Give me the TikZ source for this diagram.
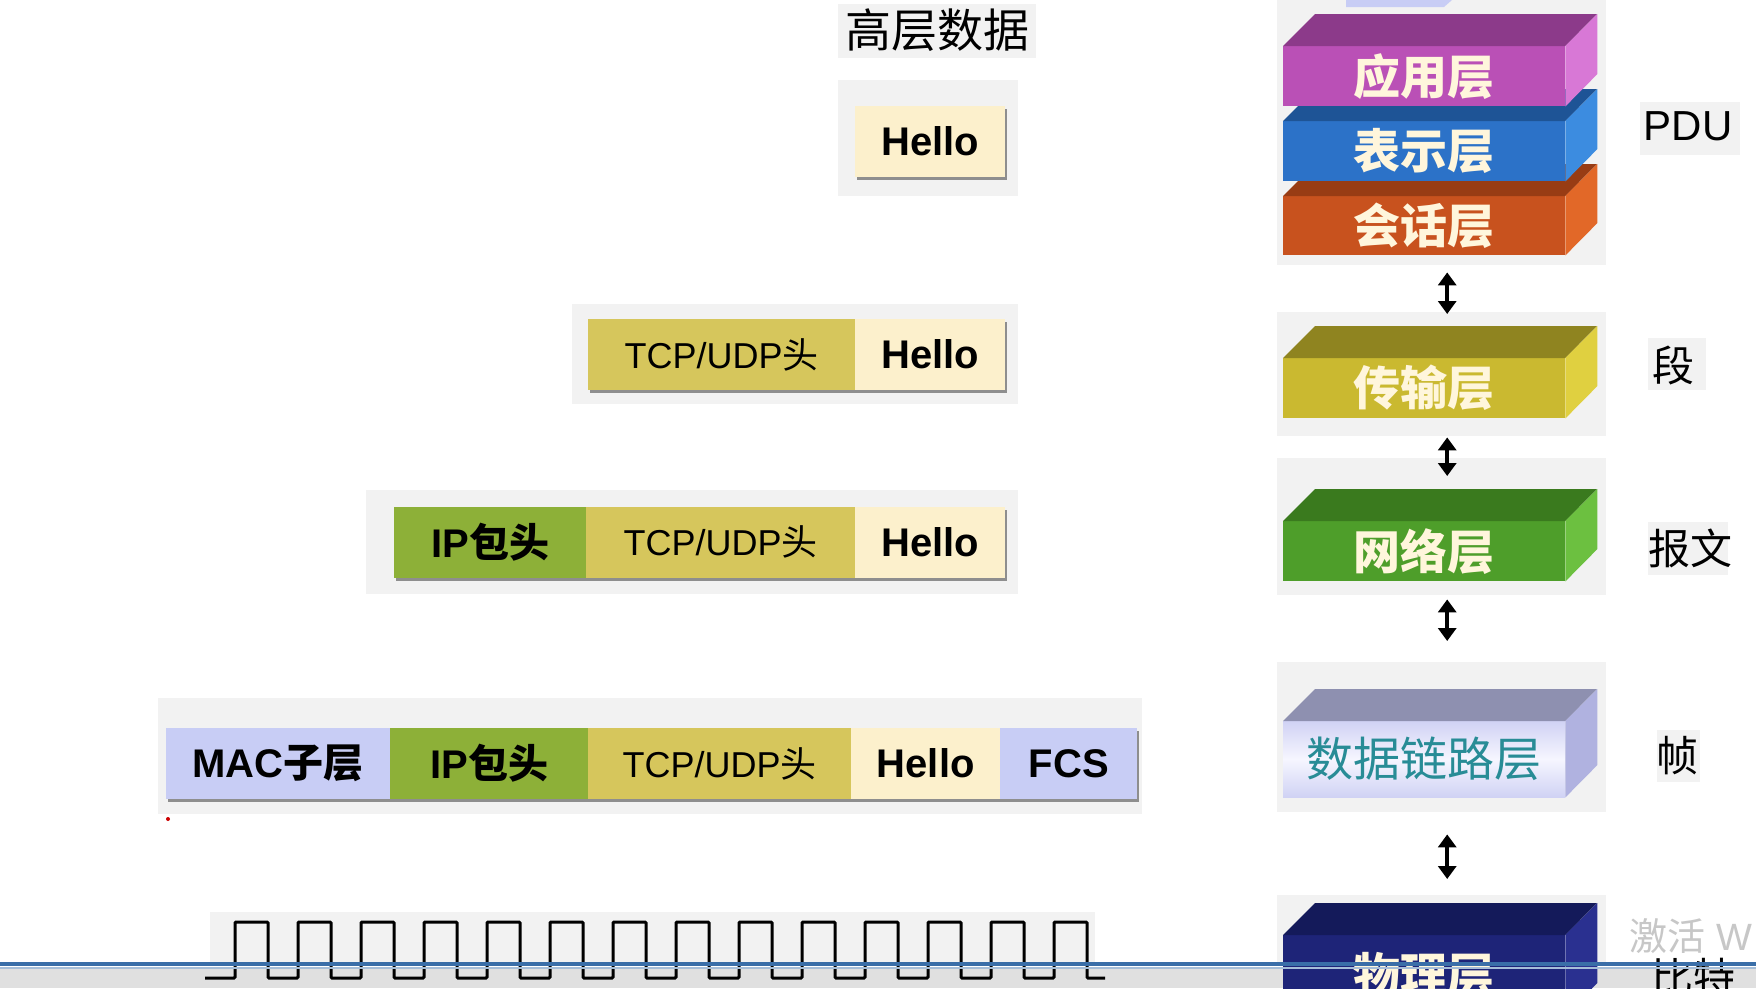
\documentclass[tikz,border=0pt]{standalone}
\usepackage{fontspec}
\setmainfont{Liberation Sans}
\newfontfamily\cjk{Noto Sans CJK SC}
\usepackage{tikz}
\usetikzlibrary{arrows.meta}
\usetikzlibrary{shadows}

\definecolor{hellofill}{RGB}{252,240,204}
\definecolor{tcpfill}{RGB}{214,198,92}
\definecolor{ipfill}{RGB}{141,176,56}
\definecolor{macfill}{RGB}{200,205,245}
\definecolor{layertext}{RGB}{255,246,220}
\definecolor{appfront}{RGB}{186,80,182}
\definecolor{apptop}{RGB}{140,58,138}
\definecolor{appside}{RGB}{216,120,214}
\definecolor{presfront}{RGB}{44,114,200}
\definecolor{prestop}{RGB}{30,84,150}
\definecolor{presside}{RGB}{60,140,224}
\definecolor{sessfront}{RGB}{200,82,30}
\definecolor{sesstop}{RGB}{152,60,20}
\definecolor{sessside}{RGB}{226,104,40}
\definecolor{transfront}{RGB}{202,185,48}
\definecolor{transtop}{RGB}{143,132,32}
\definecolor{transside}{RGB}{224,208,64}
\definecolor{netfront}{RGB}{78,158,42}
\definecolor{nettop}{RGB}{58,122,30}
\definecolor{netside}{RGB}{108,192,64}
\definecolor{dlfront}{RGB}{208,210,244}
\definecolor{dlmid}{RGB}{246,246,255}
\definecolor{dltop}{RGB}{142,144,176}
\definecolor{dlside}{RGB}{176,178,224}
\definecolor{dltext}{RGB}{40,140,150}
\definecolor{physfront}{RGB}{30,36,120}
\definecolor{phystop}{RGB}{20,26,90}
\definecolor{physside}{RGB}{42,48,144}
\definecolor{barblue}{RGB}{58,110,168}

\begin{document}
\begin{tikzpicture}[x=1pt, y=-1pt]
		\tikzstyle{halo}=[fill=black!5]
		\tikzstyle{cell}=[anchor=west, minimum height=71, inner sep=0, drop shadow={shadow xshift=2pt, shadow yshift=-3pt, fill=black!70, opacity=0.6}]
		\tikzstyle{hello}=[cell, fill=hellofill, minimum width=150, font=\bfseries\fontsize{40}{40}\selectfont]
		\tikzstyle{tcp}=[cell, fill=tcpfill, font=\fontsize{36}{36}\selectfont]
		\tikzstyle{ip}=[cell, fill=ipfill, font=\bfseries\fontsize{40}{40}\selectfont]
		\tikzstyle{mac}=[cell, fill=macfill, font=\bfseries\fontsize{40}{40}\selectfont]
		\tikzstyle{front}=[anchor=north west, minimum width=282, inner sep=0, text=layertext, font=\cjk\bfseries\fontsize{47}{47}\selectfont]
		\tikzstyle{pdu}=[font=\cjk\fontsize{42}{42}\selectfont]
		\tikzstyle{updown}=[line width=4pt, {Triangle[width=18pt,length=13pt]}-{Triangle[width=18pt,length=13pt]}]
		\tikzstyle{pulse}=[line width=3pt, rounded corners=1pt]

		\clip (0,0) rectangle (1756,988);
		\fill[white] (0,0) rectangle (1756,988);
		\fill[black!12] (0,969) rectangle (1756,988);

    % Shadows behind the slide parts
		\fill[halo] (838,4) rectangle (1036,58);
		\fill[halo] (838,80) rectangle (1018,196);
		\fill[halo] (572,304) rectangle (1018,404);
		\fill[halo] (366,490) rectangle (1018,594);
		\fill[halo] (158,698) rectangle (1142,814);
		\fill[halo] (210,912) rectangle (1095,962);
		\fill[halo] (1277,0) rectangle (1606,265);
		\fill[halo] (1277,312) rectangle (1606,436);
		\fill[halo] (1277,458) rectangle (1606,595);
		\fill[halo] (1277,662) rectangle (1606,812);
		\fill[halo] (1277,895) rectangle (1606,962);
		\fill[halo] (1640,102) rectangle (1740,155);
		\fill[halo] (1648,338) rectangle (1706,390);
		\fill[halo] (1648,522) rectangle (1728,575);
		\fill[halo] (1657,730) rectangle (1700,782);

    % Data units
		\node[pdu, font=\cjk\fontsize{46}{46}\selectfont](hdata) at (937,30){高层数据};

		\node[hello](hello1) at (855,141.5){Hello};

		\node[tcp, minimum width=267](tcp2) at (588,354.5){TCP/UDP{\cjk 头}};
		\node[hello](hello2) at (855,354.5){Hello};

		\node[ip, minimum width=192](ip3) at (394,542){IP{\cjk 包头}};
		\node[tcp, minimum width=269](tcp3) at (586,542){TCP/UDP{\cjk 头}};
		\node[hello](hello3) at (855,542){Hello};

		\node[mac, minimum width=224](mac4) at (166,763.5){MAC{\cjk 子层}};
		\node[ip, minimum width=198](ip4) at (390,763.5){IP{\cjk 包头}};
		\node[tcp, minimum width=263](tcp4) at (588,763.5){TCP/UDP{\cjk 头}};
		\node[hello, minimum width=149](hello4) at (851,763.5){Hello};
		\node[mac, minimum width=137](fcs4) at (1000,763.5){FCS};

		\fill[red!80!black] (168,819) circle (2);

    % Bit stream
		\draw[pulse] (205,978) -- (235,978)
			-- ++(0,-56) -- ++(33,0) -- ++(0,56) -- ++(30,0)
			-- ++(0,-56) -- ++(33,0) -- ++(0,56) -- ++(30,0)
			-- ++(0,-56) -- ++(33,0) -- ++(0,56) -- ++(30,0)
			-- ++(0,-56) -- ++(33,0) -- ++(0,56) -- ++(30,0)
			-- ++(0,-56) -- ++(33,0) -- ++(0,56) -- ++(30,0)
			-- ++(0,-56) -- ++(33,0) -- ++(0,56) -- ++(30,0)
			-- ++(0,-56) -- ++(33,0) -- ++(0,56) -- ++(30,0)
			-- ++(0,-56) -- ++(33,0) -- ++(0,56) -- ++(30,0)
			-- ++(0,-56) -- ++(33,0) -- ++(0,56) -- ++(30,0)
			-- ++(0,-56) -- ++(33,0) -- ++(0,56) -- ++(30,0)
			-- ++(0,-56) -- ++(33,0) -- ++(0,56) -- ++(30,0)
			-- ++(0,-56) -- ++(33,0) -- ++(0,56) -- ++(30,0)
			-- ++(0,-56) -- ++(33,0) -- ++(0,56) -- ++(30,0)
			-- ++(0,-56) -- ++(33,0) -- ++(0,56) -- ++(18,0);

    % Layer stack
		\fill[macfill] (1346,0) -- (1452,0) -- (1444,7) -- (1346,7) -- cycle;

		\node[front, fill=sessfront, minimum height=59](sess) at (1283,196){会话层};
		\fill[sesstop] (sess.north west) -- ++(32,-32) -- ++(282,0) -- (sess.north east) -- cycle;
		\fill[sessside] (sess.north east) -- ++(32,-32) -- ++(0,59) -- (sess.south east) -- cycle;

		\node[front, fill=presfront, minimum height=60](pres) at (1283,121){表示层};
		\fill[prestop] (pres.north west) -- ++(32,-32) -- ++(282,0) -- (pres.north east) -- cycle;
		\fill[presside] (pres.north east) -- ++(32,-32) -- ++(0,60) -- (pres.south east) -- cycle;

		\node[front, fill=appfront, minimum height=60](app) at (1283,46){应用层};
		\fill[apptop] (app.north west) -- ++(32,-32) -- ++(282,0) -- (app.north east) -- cycle;
		\fill[appside] (app.north east) -- ++(32,-32) -- ++(0,60) -- (app.south east) -- cycle;

		\node[front, fill=transfront, minimum height=60](trans) at (1283,358){传输层};
		\fill[transtop] (trans.north west) -- ++(32,-32) -- ++(282,0) -- (trans.north east) -- cycle;
		\fill[transside] (trans.north east) -- ++(32,-32) -- ++(0,60) -- (trans.south east) -- cycle;

		\node[front, fill=netfront, minimum height=60](net) at (1283,521){网络层};
		\fill[nettop] (net.north west) -- ++(32,-32) -- ++(282,0) -- (net.north east) -- cycle;
		\fill[netside] (net.north east) -- ++(32,-32) -- ++(0,60) -- (net.south east) -- cycle;

		\node[front, top color=dlfront, bottom color=dlfront, middle color=dlmid, minimum height=76, text=dltext, font=\cjk\fontsize{47}{47}\selectfont](dl) at (1283,721){数据链路层};
		\fill[dltop] (dl.north west) -- ++(32,-32) -- ++(282,0) -- (dl.north east) -- cycle;
		\fill[dlside] (dl.north east) -- ++(32,-32) -- ++(0,76) -- (dl.south east) -- cycle;

		\node[front, fill=physfront, minimum height=80](phys) at (1283,935){物理层};
		\fill[phystop] (phys.north west) -- ++(32,-32) -- ++(282,0) -- (phys.north east) -- cycle;
		\fill[physside] (phys.north east) -- ++(32,-32) -- ++(0,80) -- (phys.south east) -- cycle;

		\draw[updown, shorten <=17pt, shorten >=44pt] ([xshift=23pt]sess.south) -- ([xshift=23pt]trans.north);
		\draw[updown, shorten <=19pt, shorten >=45pt] ([xshift=23pt]trans.south) -- ([xshift=23pt]net.north);
		\draw[updown, shorten <=18pt, shorten >=80pt] ([xshift=23pt]net.south) -- ([xshift=23pt]dl.north);
		\draw[updown, shorten <=37pt, shorten >=56pt] ([xshift=23pt]dl.south) -- ([xshift=23pt]phys.north);

    % PDU names
		\node[font=\fontsize{42}{42}\selectfont](pduhead) at (1688,126){PDU};
		\node[pdu](seg) at (1673,365){段};
		\node[pdu](packet) at (1690,548){报文};
		\node[pdu](frame) at (1677,756){帧};
		\node[anchor=west, text=black!22, font=\fontsize{38}{38}\selectfont](mark) at (1626,936){{\cjk 激活} W};
		\node[pdu](bits) at (1693,978){比特};

		\fill[barblue] (0,962) rectangle (1756,966);
		\fill[barblue!45] (0,967) rectangle (1756,969);
  \end{tikzpicture}
\end{document}
